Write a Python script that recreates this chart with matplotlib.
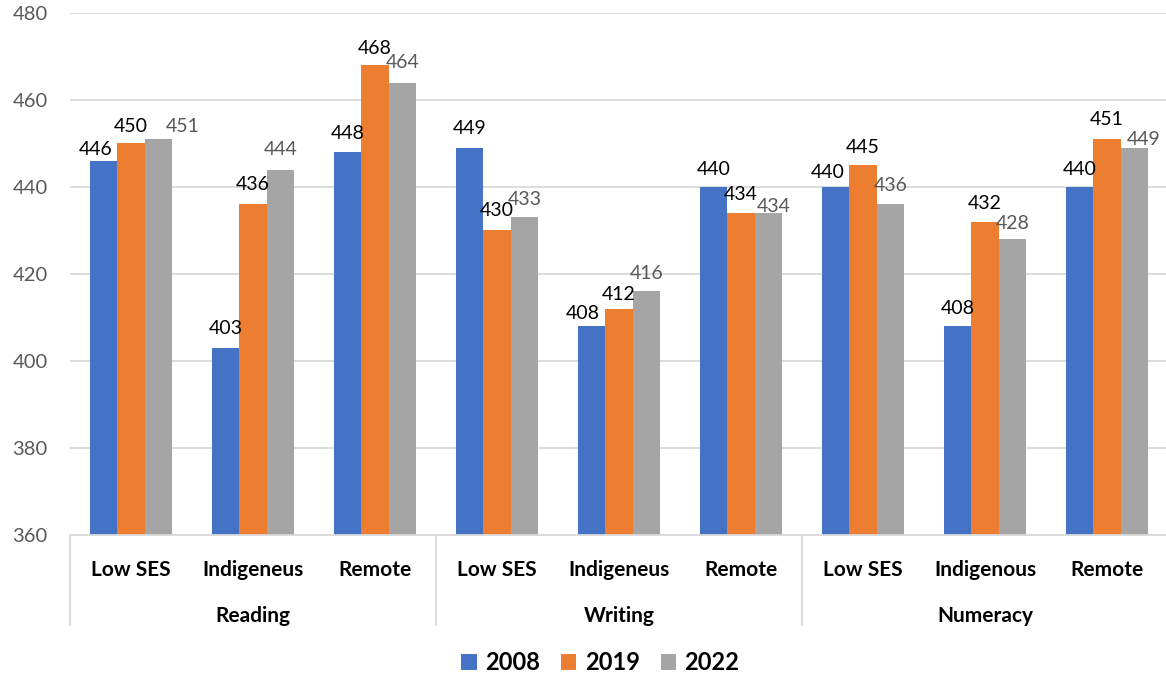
import matplotlib
matplotlib.use("Agg")
import matplotlib.pyplot as plt
import matplotlib.transforms as mtransforms
import numpy as np

subjects = ["Reading", "Writing", "Numeracy"]
groups = ["Low SES", "Indigeneus", "Remote",
          "Low SES", "Indigeneus", "Remote",
          "Low SES", "Indigenous", "Remote"]
years = ["2008", "2019", "2022"]
scores_2008 = [446, 403, 448, 449, 408, 440, 440, 408, 440]
scores_2019 = [450, 436, 468, 430, 412, 434, 445, 432, 451]
scores_2022 = [451, 444, 464, 433, 416, 434, 436, 428, 449]

colors = ["#4472C4", "#ED7D31", "#A5A5A5"]
label_colors = ["black", "black", "#595959"]

# label nudges in pixels (dx, height of label centre above bar top)
label_dx = [[-8, 0, 0, 0, -9, 0, -8, 0, 0],
            [0, 0, 0, 0, 0, 0, 0, 0, 0],
            [24, 0, 0, 0, 0, 5, 0, 0, 9]]
label_dy = [[11, 19, 19, 19, 13, 17, 14, 18, 17],
            [17, 20, 17, 20, 14, 19, 18, 18, 20],
            [13, 20, 20, 18, 18, 7, 19, 16, 8]]

plt.rcParams["font.family"] = ["Lato", "DejaVu Sans"]

fig = plt.figure(figsize=(11.66, 6.82), dpi=100)
ax = fig.add_axes([0.060, 0.2155, 0.9417, 0.7655])

x = np.arange(len(groups))
w = 0.224
px = 0.72  # points per pixel at dpi 100
series = [scores_2008, scores_2019, scores_2022]
for i, vals in enumerate(series):
    bars = ax.bar(x + (i - 1) * w, np.array(vals) - 360, bottom=360, width=w,
                  color=colors[i], label=years[i], zorder=2)
    for j, (b, v) in enumerate(zip(bars, vals)):
        ax.annotate(str(v), (b.get_x() + b.get_width() / 2, v),
                    xytext=(label_dx[i][j] * px, label_dy[i][j] * px),
                    textcoords="offset points", ha="center", va="center",
                    fontsize=14, color=label_colors[i])

ax.set_ylim(360, 480)
ax.set_xlim(-0.5, len(groups) - 0.5)
ax.set_yticks(np.arange(360, 481, 20))
ax.yaxis.grid(True, color="#D9D9D9", linewidth=1.3, zorder=0)
ax.set_axisbelow(True)
ax.tick_params(axis="y", length=0, pad=16, labelsize=14.5, labelcolor="#595959")
ax.set_xticks([])
for s in ["top", "right", "left"]:
    ax.spines[s].set_visible(False)
ax.spines["bottom"].set_color("#D9D9D9")
ax.spines["bottom"].set_linewidth(1.3)

# two-level category axis
trans = mtransforms.blended_transform_factory(ax.transData, ax.transAxes)
for xi, g in zip(x, groups):
    ax.text(xi, -0.067, g, transform=trans, ha="center", va="center",
            fontsize=15, fontweight="bold")
for k, subj in enumerate(subjects):
    ax.text(3 * k + 1, -0.155, subj, transform=trans, ha="center", va="center",
            fontsize=15, fontweight="bold")
for xb in [-0.5, 2.5, 5.5]:
    ax.plot([xb, xb], [0, -0.172], transform=trans, color="#D9D9D9",
            linewidth=1.3, clip_on=False)

fig.legend(loc="lower center", bbox_to_anchor=(0.515, -0.02), ncol=3,
           frameon=False, prop={"weight": "bold", "size": 17},
           handlelength=0.65, handleheight=0.65, handletextpad=0.35,
           columnspacing=0.9)

fig.savefig("out.png", dpi=100)
